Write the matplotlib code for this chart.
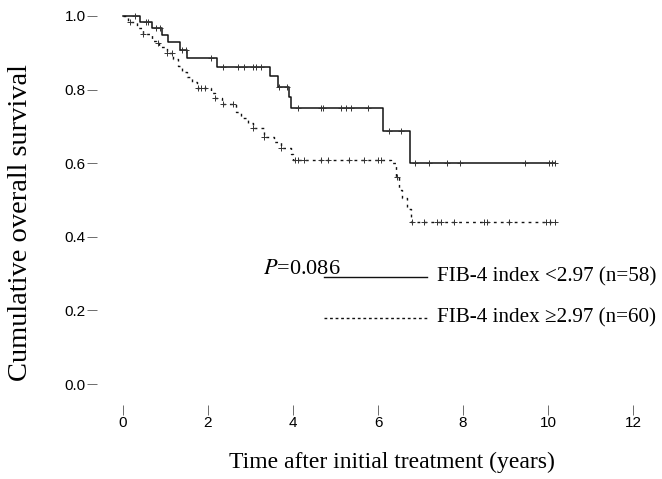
import numpy as np
import matplotlib as mpl
mpl.use('Agg')
import matplotlib.pyplot as plt

# FIB-4 < 2.97 (n=58): event times (years) and survival after each event
low_time = [0.40, 0.69, 0.92, 1.06, 1.35, 1.51, 2.22, 3.45, 3.64, 3.90, 3.95, 6.12, 6.74]
low_surv = [0.983, 0.966, 0.948, 0.929, 0.908, 0.886, 0.862, 0.837, 0.807, 0.779, 0.750, 0.686, 0.601]
low_end = 10.17
low_cens = [0.28, 0.54, 0.60, 0.78, 0.87, 1.39, 1.49, 2.06, 2.36, 2.70, 2.84, 3.07, 3.14, 3.24,
            3.68, 3.86, 4.11, 4.66, 4.70, 5.13, 5.25, 5.37, 5.77, 6.26, 6.55, 6.86, 7.19, 7.61,
            7.92, 9.46, 10.02, 10.09, 10.17]

# FIB-4 >= 2.97 (n=60)
high_time = [0.12, 0.33, 0.47, 0.69, 0.78, 0.85, 1.04, 1.18, 1.30, 1.39, 1.51, 1.63, 1.75, 2.06,
             2.17, 2.34, 2.65, 2.77, 2.93, 3.05, 3.31, 3.55, 3.71, 3.95, 4.00, 6.31, 6.43, 6.50,
             6.57, 6.69, 6.78]
high_surv = [0.983, 0.967, 0.950, 0.933, 0.925, 0.916, 0.899, 0.882, 0.865, 0.848, 0.835, 0.820,
             0.805, 0.790, 0.776, 0.762, 0.740, 0.722, 0.710, 0.696, 0.672, 0.657, 0.640, 0.625,
             0.609, 0.600, 0.563, 0.527, 0.505, 0.475, 0.440]
high_end = 10.17
high_cens = [0.17, 0.47, 0.83, 1.04, 1.16, 1.77, 1.84, 1.94, 2.17, 2.36, 2.60, 3.05, 3.31, 3.71,
             4.04, 4.11, 4.26, 4.66, 4.82, 5.32, 5.67, 6.00, 6.08, 6.45, 6.80, 7.09, 7.38, 7.49,
             7.78, 8.49, 8.56, 9.08, 9.95, 10.05, 10.17]

xticks = [0, 2, 4, 6, 8, 10, 12]
yticks = [0.0, 0.2, 0.4, 0.6, 0.8, 1.0]

serif = ['Liberation Serif', 'DejaVu Serif']
sans = ['Liberation Sans', 'DejaVu Sans']


def steps(times, surv, end):
    t = np.r_[0, times, end]
    s = np.r_[1.0, surv, surv[-1]]
    return t, s


def at(times, surv, tc):
    idx = np.searchsorted(times, tc, side='right')
    s = np.r_[1.0, surv]
    return s[idx]


fig = plt.figure(figsize=(6.62, 4.79), dpi=100)
ax = fig.add_axes([97 / 662, 74 / 479, 543 / 662, 395 / 479])

t, s = steps(low_time, low_surv, low_end)
ax.step(t, s, where='post', color='#111111', lw=1.1)
ax.plot(low_cens, at(low_time, low_surv, low_cens), '+', color='#333333', ms=5, mew=0.7)

t, s = steps(high_time, high_surv, high_end)
ax.step(t, s, where='post', color='#111111', lw=1.0, linestyle=(0, (2, 3)))
ax.plot(high_cens, at(high_time, high_surv, high_cens), '+', color='#333333', ms=5, mew=0.7)

ax.set_xlim(-0.61, 12.16)
ax.set_ylim(-0.057, 1.016)
for sp in ax.spines.values():
    sp.set_visible(False)
ax.set_xticks(xticks)
ax.set_xticklabels([str(v) for v in xticks], family=sans, fontsize=11)
ax.set_yticks(yticks)
ax.set_yticklabels(['{:.1f}'.format(v) for v in yticks], family=sans, fontsize=11)
ax.tick_params(axis='both', length=7, width=0.6, color='#555555', pad=1)

ax.set_xlabel('Time after initial treatment (years)', family=serif, fontsize=17, va='center')
ax.xaxis.set_label_coords(0.543, -0.145)
ax.set_ylabel('Cumulative overall survival', family=serif, fontsize=20.5, va='center')
ax.yaxis.set_label_coords(-0.14, 0.463)

ax.text(3.3, 0.31, '$P$=0.086', family=serif, fontsize=16, va='center', ha='left',
        math_fontfamily='stix')
ax.plot([4.73, 7.14], [0.29, 0.29], color='#111111', lw=1.0)
ax.plot([4.73, 7.14], [0.18, 0.18], color='#111111', lw=1.0, linestyle=(0, (2, 2)))
ax.text(7.38, 0.29, 'FIB-4 index <2.97 (n=58)', family=serif, fontsize=15.2, va='center')
ax.text(7.38, 0.18, 'FIB-4 index \u22652.97 (n=60)', family=serif, fontsize=15.2, va='center')

fig.savefig('out.png', dpi=100)
